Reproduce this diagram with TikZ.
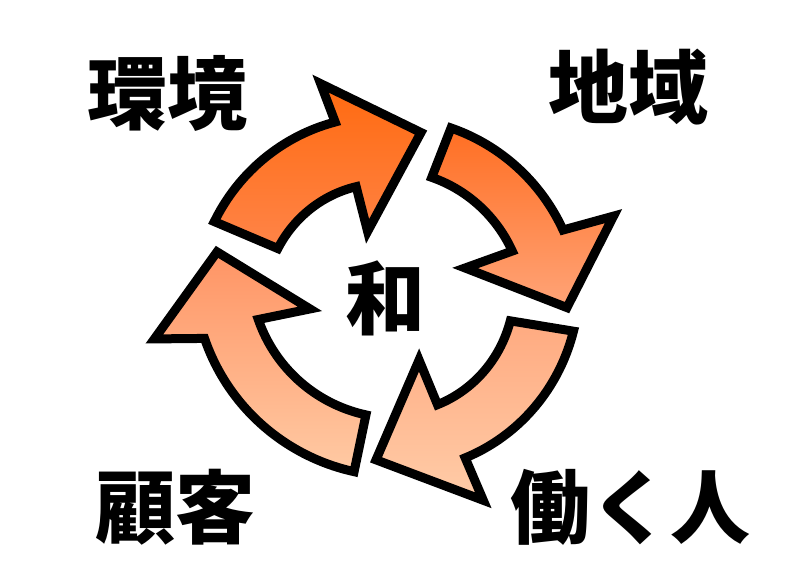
\documentclass[tikz,border=0pt]{standalone}
\usepackage{fontspec}
\newfontfamily\jp{Noto Sans CJK JP}
\definecolor{ta}{HTML}{FF6A10}
\definecolor{tb}{HTML}{FF8448}
\definecolor{ra}{HTML}{FF6E22}
\definecolor{rb}{HTML}{FFA478}
\definecolor{ba}{HTML}{FFAA80}
\definecolor{bb}{HTML}{FFCCA8}
\definecolor{la}{HTML}{FF9464}
\definecolor{lb}{HTML}{FFCAA4}
\tikzset{
  cyc/.style={draw=black, line width=9pt, line join=miter, miter limit=20},
  lbl/.style={inner sep=0pt, anchor=center, font=\jp\bfseries\fontsize{80}{80}\selectfont},
}
\begin{document}
\begin{tikzpicture}[x=1pt,y=1pt]
\useasboundingbox (0,0) rectangle (793,-586);
% top arrow
\begin{scope}[shift={(392,-297)}]
\draw[cyc, top color=ta, bottom color=tb]
 (157:193) -- plot[domain=157:108,samples=40,variable=\t] (\t:{193+(184-193)*(\t-157)/(108-157)})
 -- (108.5:225) -- (80:167) -- (110.4:70) -- (108:116)
 -- plot[domain=108:157,samples=40,variable=\t] (\t:{116+(124-116)*(\t-108)/(157-108)}) -- cycle;
\end{scope}
% right arrow
\begin{scope}[shift={(382,-305)}]
\draw[cyc, top color=ra, bottom color=rb]
 (68.7:190) -- plot[domain=68.7:22.5,samples=40,variable=\t] (\t:{190+(196-190)*(\t-68.7)/(22.5-68.7)})
 -- (21:248) -- (-0.8:185) -- (24:91) -- (22.5:141)
 -- plot[domain=22.5:68.7,samples=40,variable=\t] (\t:{141+(137-141)*(\t-22.5)/(68.7-22.5)}) -- cycle;
\end{scope}
% bottom arrow
\begin{scope}[shift={(383,-300)}]
\draw[cyc, top color=ba, bottom color=bb]
 (-9.3:193) -- plot[domain=-9.3:-62.5,samples=40,variable=\t] (\t:{193+(178-193)*(\t+9.3)/(-62.5+9.3)})
 -- (-63.4:224) -- (-92.5:160) -- (-59:70) -- (-62.5:118)
 -- plot[domain=-62.5:-9.3,samples=40,variable=\t] (\t:{118+(129-118)*(\t+62.5)/(-9.3+62.5)}) -- cycle;
\end{scope}
% left arrow
\begin{scope}[shift={(396,-271)}]
\draw[cyc, top color=la, bottom color=lb]
 (258.2:205) -- plot[domain=258.2:199.4,samples=40,variable=\t] (\t:{205+(203-205)*(\t-258.2)/(199.4-258.2)})
 -- (195.7:251) -- (173.9:180) -- (203.8:94) -- (199.4:146)
 -- plot[domain=199.4:258.2,samples=40,variable=\t] (\t:{146+(147-146)*(\t-199.4)/(258.2-199.4)}) -- cycle;
\end{scope}
\node[lbl] (env) at (167,-93) {環境};
\node[lbl] (reg) at (628,-87) {地域};
\node[lbl] (cust) at (175,-507) {顧客};
\node[lbl] (work) at (630,-507) {働く人};
\node[lbl] (wa) at (385,-298) {和};
\end{tikzpicture}
\end{document}
